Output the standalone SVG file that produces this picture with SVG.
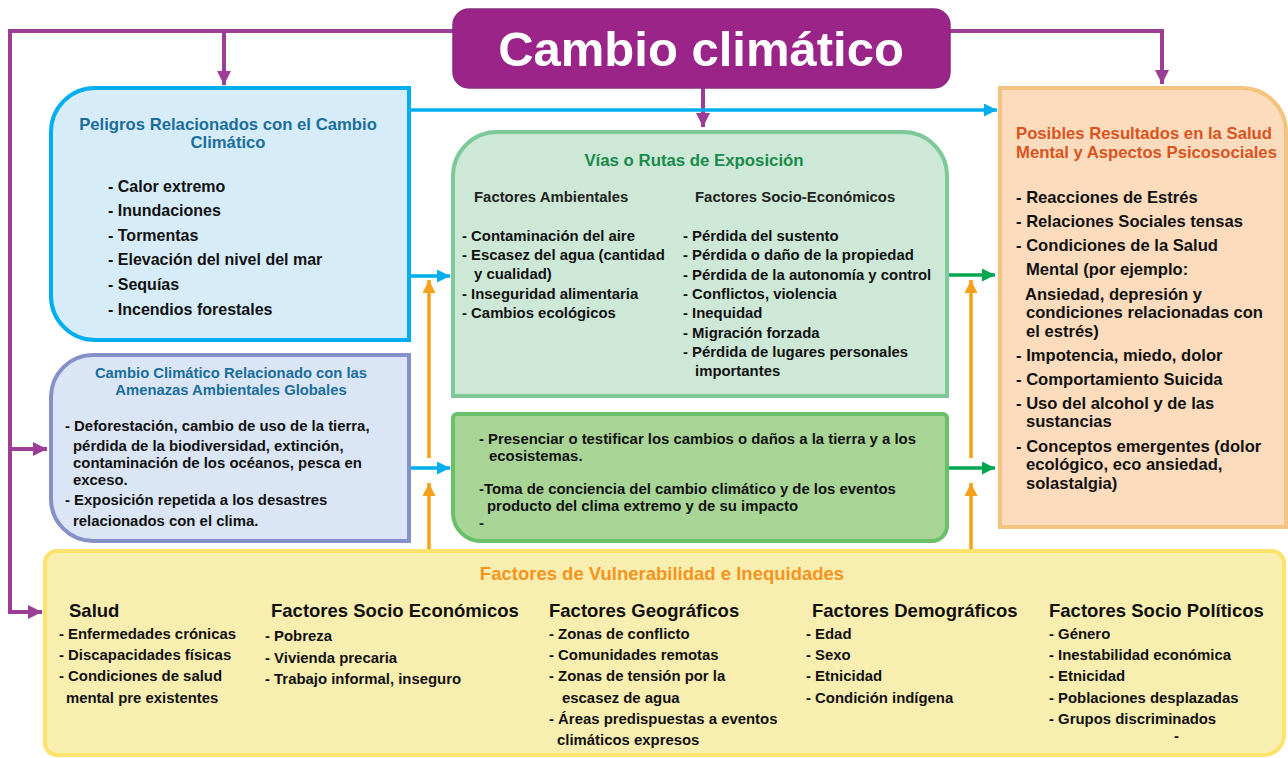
<svg xmlns="http://www.w3.org/2000/svg" width="1288" height="758" viewBox="0 0 1288 758">
<defs>
<style>
text{font-family:"Liberation Sans",Arial,sans-serif;font-weight:bold}
.it{font-size:14.9px;fill:#111}
.it16{font-size:16.6px;fill:#111}
.hd{font-size:18.5px;fill:#111}
.blue{fill:#1a6e9c}
.pl{stroke:#9c3d96;stroke-width:4;fill:none}
.bl{stroke:#00aeef;stroke-width:3.5;fill:none}
.gr{stroke:#00a650;stroke-width:3.5;fill:none}
.or{stroke:#f7a11a;stroke-width:3.5;fill:none}
</style>
<marker id="mP" viewBox="0 0 10 10" refX="10" refY="5" markerWidth="14" markerHeight="14" orient="auto" markerUnits="userSpaceOnUse"><path d="M0,0L10,5L0,10z" fill="#9c3d96"/></marker>
<marker id="mB" viewBox="0 0 10 10" refX="10" refY="5" markerWidth="13" markerHeight="13" orient="auto" markerUnits="userSpaceOnUse"><path d="M0,0L10,5L0,10z" fill="#00aeef"/></marker>
<marker id="mG" viewBox="0 0 10 10" refX="10" refY="5" markerWidth="13" markerHeight="13" orient="auto" markerUnits="userSpaceOnUse"><path d="M0,0L10,5L0,10z" fill="#00a650"/></marker>
<marker id="mO" viewBox="0 0 10 10" refX="10" refY="5" markerWidth="13" markerHeight="13" orient="auto" markerUnits="userSpaceOnUse"><path d="M0,0L10,5L0,10z" fill="#f7a11a"/></marker>
</defs>
<rect width="1288" height="758" fill="#fff"/>

<g id="connectors">
<polyline class="pl" points="453,31 10,31 10,612 42,612" marker-end="url(#mP)"/>
<line class="pl" x1="10" y1="449" x2="47" y2="449" marker-end="url(#mP)"/>
<line class="pl" x1="224" y1="31" x2="224" y2="85" marker-end="url(#mP)"/>
<polyline class="pl" points="950,31 1162,31 1162,84" marker-end="url(#mP)"/>
<line class="pl" x1="703" y1="88" x2="703" y2="127" marker-end="url(#mP)"/>
<line class="bl" x1="410" y1="110" x2="997" y2="110" marker-end="url(#mB)"/>
<line class="bl" x1="410" y1="276" x2="450" y2="276" marker-end="url(#mB)"/>
<line class="bl" x1="410" y1="468" x2="450" y2="468" marker-end="url(#mB)"/>
<line class="gr" x1="947" y1="275" x2="995" y2="275" marker-end="url(#mG)"/>
<line class="gr" x1="947" y1="468" x2="995" y2="468" marker-end="url(#mG)"/>
<line class="or" x1="429" y1="458" x2="429" y2="280" marker-end="url(#mO)"/>
<line class="or" x1="429" y1="551" x2="429" y2="483" marker-end="url(#mO)"/>
<line class="or" x1="971" y1="458" x2="971" y2="280" marker-end="url(#mO)"/>
<line class="or" x1="971" y1="551" x2="971" y2="483" marker-end="url(#mO)"/>
</g>

<g id="title">
<rect x="453" y="9" width="497" height="79" rx="16" fill="#9b2489" stroke="#8a2a80" stroke-width="1.5"/>
<text x="701" y="66" font-size="49" fill="#fff" text-anchor="middle">Cambio climático</text>
</g>

<g id="peligros">
<path d="M95,88 H409 V340 H95 A44,44 0 0 1 51,296 V132 A44,44 0 0 1 95,88 Z" fill="#d6ecf9" stroke="#00aeef" stroke-width="4"/>
<text x="228" y="130" font-size="16.7" class="blue" text-anchor="middle">Peligros Relacionados con el Cambio</text>
<text x="228" y="148" font-size="16.7" class="blue" text-anchor="middle">Climático</text>
<text x="108" y="192" font-size="16" fill="#111">- Calor extremo</text>
<text x="108" y="216" font-size="16" fill="#111">- Inundaciones</text>
<text x="108" y="241" font-size="16" fill="#111">- Tormentas</text>
<text x="108" y="265" font-size="16" fill="#111">- Elevación del nivel del mar</text>
<text x="108" y="290" font-size="16" fill="#111">- Sequías</text>
<text x="108" y="315" font-size="16" fill="#111">- Incendios forestales</text>
</g>

<g id="amenazas">
<path d="M93,355 H409 V541 H93 A42,42 0 0 1 51,499 V397 A42,42 0 0 1 93,355 Z" fill="#dae6f5" stroke="#8591c9" stroke-width="4"/>
<text x="231" y="378" font-size="14.8" class="blue" text-anchor="middle">Cambio Climático Relacionado con las</text>
<text x="231" y="395" font-size="14.8" class="blue" text-anchor="middle">Amenazas Ambientales Globales</text>
<text x="65" y="431" class="it">- Deforestación, cambio de uso de la tierra,</text>
<text x="73" y="451" class="it">pérdida de la biodiversidad, extinción,</text>
<text x="73" y="468" class="it">contaminación de los océanos, pesca en</text>
<text x="73" y="485" class="it">exceso.</text>
<text x="65" y="505" class="it">- Exposición repetida a los desastres</text>
<text x="73" y="526" class="it">relacionados con el clima.</text>
</g>

<g id="vias">
<path d="M453,396 V176 A44,44 0 0 1 497,132 H903 A44,44 0 0 1 947,176 V396 Z" fill="#cde8d7" stroke="#7dc99a" stroke-width="4"/>
<text x="694" y="166" font-size="16.8" fill="#1a8a4a" text-anchor="middle">Vías o Rutas de Exposición</text>
<text x="474" y="202" font-size="14.9" fill="#222">Factores Ambientales</text>
<text x="695" y="202" font-size="14.9" fill="#222">Factores Socio-Económicos</text>
<text x="462" y="241" class="it">- Contaminación del aire</text>
<text x="462" y="260" class="it">- Escasez del agua (cantidad</text>
<text x="474" y="279" class="it">y cualidad)</text>
<text x="462" y="299" class="it">- Inseguridad alimentaria</text>
<text x="462" y="318" class="it">- Cambios ecológicos</text>
<text x="683" y="241" class="it">- Pérdida del sustento</text>
<text x="683" y="260" class="it">- Pérdida o daño de la propiedad</text>
<text x="683" y="280" class="it">- Pérdida de la autonomía y control</text>
<text x="683" y="299" class="it">- Conflictos, violencia</text>
<text x="683" y="318" class="it">- Inequidad</text>
<text x="683" y="338" class="it">- Migración forzada</text>
<text x="683" y="357" class="it">- Pérdida de lugares personales</text>
<text x="695" y="376" class="it">importantes</text>
</g>

<g id="testificar">
<path d="M457,414 H943 A4,4 0 0 1 947,418 V526 A15,15 0 0 1 932,541 H481 A28,28 0 0 1 453,513 V418 A4,4 0 0 1 457,414 Z" fill="#a8d595" stroke="#6abf69" stroke-width="4"/>
<text x="479" y="444" class="it">- Presenciar o testificar los cambios o daños a la tierra y a los</text>
<text x="489" y="461" class="it">ecosistemas.</text>
<text x="479" y="494" class="it">-Toma de conciencia del cambio climático y de los eventos</text>
<text x="487" y="511" class="it">producto del clima extremo y de su impacto</text>
<text x="479" y="528" class="it">-</text>
</g>

<g id="resultados">
<path d="M1000,88 H1242 A44,44 0 0 1 1286,132 V527 H1000 Z" fill="#fddcbd" stroke="#f3c47f" stroke-width="4"/>
<text x="1016" y="139" font-size="16.7" fill="#d9531e">Posibles Resultados en la Salud</text>
<text x="1016" y="158" font-size="16.7" fill="#d9531e">Mental y Aspectos Psicosociales</text>
<text x="1016" y="203" class="it16">- Reacciones de Estrés</text>
<text x="1016" y="227" class="it16">- Relaciones Sociales tensas</text>
<text x="1016" y="251" class="it16">- Condiciones de la Salud</text>
<text x="1026" y="275" class="it16">Mental (por ejemplo:</text>
<text x="1025" y="300" class="it16">Ansiedad, depresión y</text>
<text x="1026" y="318" class="it16">condiciones relacionadas con</text>
<text x="1026" y="337" class="it16">el estrés)</text>
<text x="1016" y="361" class="it16">- Impotencia, miedo, dolor</text>
<text x="1016" y="385" class="it16">- Comportamiento Suicida</text>
<text x="1016" y="409" class="it16">- Uso del alcohol y de las</text>
<text x="1026" y="427" class="it16">sustancias</text>
<text x="1016" y="452" class="it16">- Conceptos emergentes (dolor</text>
<text x="1026" y="470" class="it16">ecológico, eco ansiedad,</text>
<text x="1026" y="489" class="it16">solastalgia)</text>
</g>

<g id="vulnerabilidad">
<path d="M57,551 H1272 A12,12 0 0 1 1284,563 V735 A20,20 0 0 1 1264,755 H57 A12,12 0 0 1 45,743 V563 A12,12 0 0 1 57,551 Z" fill="#f8eeb0" stroke="#fde26e" stroke-width="4"/>
<text x="662" y="580" font-size="18.5" fill="#f7941d" text-anchor="middle">Factores de Vulnerabilidad e Inequidades</text>
<text x="69" y="617" class="hd">Salud</text>
<text x="271" y="617" class="hd">Factores Socio Económicos</text>
<text x="549" y="617" class="hd">Factores Geográficos</text>
<text x="812" y="617" class="hd">Factores Demográficos</text>
<text x="1049" y="617" class="hd">Factores Socio Políticos</text>
<text x="59" y="639" class="it">- Enfermedades crónicas</text>
<text x="59" y="660" class="it">- Discapacidades físicas</text>
<text x="59" y="681" class="it">- Condiciones de salud</text>
<text x="66" y="703" class="it">mental pre existentes</text>
<text x="265" y="641" class="it">- Pobreza</text>
<text x="265" y="663" class="it">- Vivienda precaria</text>
<text x="265" y="684" class="it">- Trabajo informal, inseguro</text>
<text x="549" y="639" class="it">- Zonas de conflicto</text>
<text x="549" y="660" class="it">- Comunidades remotas</text>
<text x="549" y="681" class="it">- Zonas de tensión por la</text>
<text x="562" y="703" class="it">escasez de agua</text>
<text x="549" y="724" class="it">- Áreas predispuestas a eventos</text>
<text x="557" y="745" class="it">climáticos expresos</text>
<text x="806" y="639" class="it">- Edad</text>
<text x="806" y="660" class="it">- Sexo</text>
<text x="806" y="681" class="it">- Etnicidad</text>
<text x="806" y="703" class="it">- Condición indígena</text>
<text x="1049" y="639" class="it">- Género</text>
<text x="1049" y="660" class="it">- Inestabilidad económica</text>
<text x="1049" y="681" class="it">- Etnicidad</text>
<text x="1049" y="703" class="it">- Poblaciones desplazadas</text>
<text x="1049" y="724" class="it">- Grupos discriminados</text>
<text x="1174" y="741" class="it">-</text>
</g>
</svg>
